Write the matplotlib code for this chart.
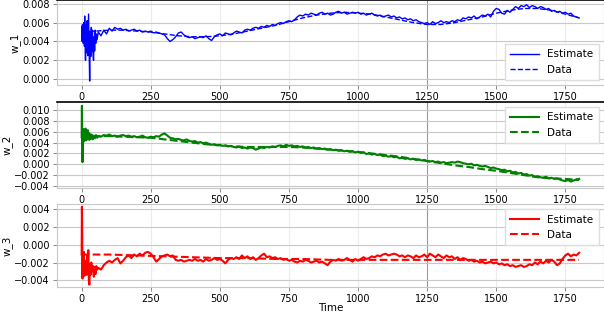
import matplotlib
matplotlib.use('Agg')
import matplotlib.pyplot as plt
import numpy as np
from matplotlib.ticker import MultipleLocator, FuncFormatter

# time axis: dense samples at the start, then every 10 steps
t_early_1 = [0, 1, 2, 3, 4, 5, 6, 8, 10, 11, 13, 14, 16, 18, 20, 22, 25, 27, 29, 31,
             33, 35, 37, 39, 41, 43, 45, 47, 49, 51, 53, 56, 60]
t_early_2 = [0, 1, 2, 3, 4, 5, 6, 8, 10, 12, 14, 16, 18, 20, 22, 24, 26, 28, 30, 33,
             36, 40, 44, 48, 52, 56, 60]
t_early_3 = [0, 1, 2, 3, 4, 6, 8, 10, 12, 14, 16, 18, 20, 22, 24, 26, 28, 30, 32, 35,
             38, 41, 44, 47, 50, 53, 56, 60]
t_late = np.arange(70, 1801, 10)
t_data1 = np.arange(0, 1801, 50)
t_data2 = np.arange(0, 1801, 50)
t_data3 = np.arange(0, 1801, 100)

# w_1
w1_early = [0.0045, 0.0056, 0.0040, 0.0058, 0.0042, 0.0055, 0.0038, 0.0060, 0.0035, 0.0067,
            0.0030, 0.0020, 0.0058, 0.0028, 0.0062, 0.0025, 0.0069, 0.0030, -0.0002, 0.0050,
            0.0024, 0.0055, 0.0030, 0.0052, 0.0028, 0.0020, 0.0045, 0.0030, 0.0052, 0.0038,
            0.0048, 0.0042, 0.0050]
w1_late = [
    0.0046, 0.0052, 0.0048, 0.0054, 0.0051, 0.0055, 0.0053, 0.0054, 0.0052, 0.0053,
    0.0051, 0.0052, 0.0053, 0.0051, 0.0052, 0.0050, 0.0051, 0.0050, 0.0051,
    0.0049, 0.0050, 0.0049, 0.0048, 0.0047, 0.0043, 0.0040, 0.0042, 0.0045, 0.0049,
    0.0050, 0.0047, 0.0045, 0.0044, 0.0045, 0.0043, 0.0044, 0.0045, 0.0044, 0.0046,
    0.0043, 0.0041, 0.0045, 0.0047, 0.0048,
    0.0046, 0.0049, 0.0048, 0.0047, 0.0049, 0.0051, 0.0050, 0.0049, 0.0052, 0.0053,
    0.0052, 0.0054, 0.0055, 0.0054, 0.0056, 0.0055, 0.0057, 0.0056, 0.0058, 0.0057,
    0.0059, 0.0060, 0.0059, 0.0061, 0.0062,
    0.0061, 0.0063, 0.0066, 0.0068, 0.0067, 0.0069, 0.0068, 0.0070, 0.0069, 0.0068,
    0.0070, 0.0071, 0.0069, 0.0070, 0.0068, 0.0069, 0.0071, 0.0072, 0.0070, 0.0071,
    0.0069, 0.0070, 0.0071, 0.0070, 0.0071,
    0.0069, 0.0070, 0.0068, 0.0069, 0.0070, 0.0068, 0.0067, 0.0068, 0.0066, 0.0067,
    0.0068, 0.0066, 0.0067, 0.0065, 0.0066, 0.0064, 0.0065, 0.0063, 0.0064, 0.0062,
    0.0063, 0.0061, 0.0060, 0.0059, 0.0060,
    0.0058, 0.0061, 0.0059, 0.0060, 0.0062, 0.0060, 0.0061, 0.0060, 0.0062, 0.0061,
    0.0063, 0.0062, 0.0065, 0.0064, 0.0066, 0.0065, 0.0067, 0.0064, 0.0066, 0.0068,
    0.0067, 0.0069, 0.0066, 0.0072, 0.0075,
    0.0074, 0.0070, 0.0069, 0.0073, 0.0071, 0.0074, 0.0077, 0.0075, 0.0078, 0.0077,
    0.0079, 0.0076, 0.0078, 0.0077, 0.0075, 0.0077, 0.0076, 0.0074, 0.0075, 0.0072,
    0.0073, 0.0071, 0.0072, 0.0070, 0.0071, 0.0069, 0.0070, 0.0067, 0.0066, 0.0065]
w1_data = [0.0050, 0.0051, 0.0052, 0.0052, 0.0051, 0.0050, 0.0048, 0.0046, 0.0045, 0.0045,
           0.0046, 0.0048, 0.0051, 0.0054, 0.0057, 0.0061, 0.0065, 0.0068, 0.0070, 0.0071,
           0.0070, 0.0069, 0.0066, 0.0063, 0.0060, 0.0058, 0.0058, 0.0060, 0.0063, 0.0066,
           0.0070, 0.0073, 0.0075, 0.0075, 0.0073, 0.0069, 0.0065]

# w_2
w2_early = [0.0050, 0.0108, 0.0060, 0.0004, 0.0055, 0.0048, 0.0065, 0.0042, 0.0062, 0.0045,
            0.0066, 0.0044, 0.0060, 0.0046, 0.0063, 0.0047, 0.0058, 0.0045, 0.0056, 0.0047,
            0.0055, 0.0046, 0.0053, 0.0048, 0.0054, 0.0049, 0.0052]
w2_late = [
    0.0051, 0.0054, 0.0053, 0.0055, 0.0052, 0.0053, 0.0051, 0.0053, 0.0054, 0.0052,
    0.0053, 0.0051, 0.0052, 0.0050, 0.0051, 0.0053, 0.0050, 0.0049, 0.0051,
    0.0050, 0.0052, 0.0051, 0.0055, 0.0057, 0.0053, 0.0049, 0.0048, 0.0046, 0.0047,
    0.0045, 0.0044, 0.0046, 0.0043, 0.0042, 0.0043, 0.0040, 0.0041, 0.0039, 0.0040,
    0.0038, 0.0036, 0.0037, 0.0035, 0.0036,
    0.0034, 0.0035, 0.0033, 0.0034, 0.0032, 0.0031, 0.0033, 0.0030, 0.0031, 0.0029,
    0.0031, 0.0030, 0.0027, 0.0029, 0.0031, 0.0030, 0.0032, 0.0031, 0.0033, 0.0032,
    0.0034, 0.0035, 0.0033, 0.0036, 0.0034,
    0.0035, 0.0033, 0.0034, 0.0032, 0.0033, 0.0031, 0.0032, 0.0030, 0.0031, 0.0029,
    0.0030, 0.0028, 0.0029, 0.0027, 0.0028, 0.0026, 0.0027, 0.0025, 0.0026, 0.0024,
    0.0025, 0.0023, 0.0024, 0.0022, 0.0023,
    0.0021, 0.0022, 0.0019, 0.0020, 0.0018, 0.0019, 0.0017, 0.0018, 0.0015, 0.0016,
    0.0014, 0.0015, 0.0013, 0.0014, 0.0011, 0.0012, 0.0010, 0.0011, 0.0009, 0.0010,
    0.0008, 0.0009, 0.0007, 0.0008, 0.0006,
    0.0005, 0.0006, 0.0004, 0.0005, 0.0003, 0.0004, 0.0002, 0.0003, 0.0004, 0.0003,
    0.0005, 0.0004, 0.0002, 0.0001, 0.0000, 0.0001, -0.0002, -0.0001, -0.0003, -0.0004,
    -0.0003, -0.0005, -0.0007, -0.0006, -0.0008,
    -0.0009, -0.0011, -0.0010, -0.0013, -0.0012, -0.0015, -0.0014, -0.0017, -0.0016, -0.0019,
    -0.0018, -0.0021, -0.0020, -0.0023, -0.0022, -0.0024, -0.0025, -0.0023, -0.0026, -0.0025,
    -0.0027, -0.0026, -0.0028, -0.0030, -0.0031, -0.0029, -0.0032, -0.0030, -0.0028, -0.0027]
w2_data = [0.0052, 0.0052, 0.0052, 0.0051, 0.0050, 0.0049, 0.0046, 0.0043, 0.0040, 0.0037,
           0.0035, 0.0033, 0.0032, 0.0032, 0.0032, 0.0032, 0.0031, 0.0029, 0.0027, 0.0025,
           0.0023, 0.0020, 0.0017, 0.0014, 0.0010, 0.0006, 0.0002, -0.0002, -0.0005, -0.0009,
           -0.0012, -0.0016, -0.0020, -0.0024, -0.0026, -0.0027, -0.0029]

# w_3
w3_early = [-0.0011, 0.0043, 0.0010, -0.0038, -0.0012, -0.0030, -0.0008, -0.0035, -0.0018, -0.0028,
            -0.0020, -0.0034, -0.0012, -0.0030, -0.0006, -0.0040, -0.0045, -0.0022, -0.0034, -0.0020,
            -0.0030, -0.0024, -0.0036, -0.0025, -0.0033, -0.0024, -0.0028, -0.0026]
w3_late = [
    -0.0028, -0.0023, -0.0020, -0.0018, -0.0020, -0.0017, -0.0015, -0.0021, -0.0018, -0.0014,
    -0.0012, -0.0015, -0.0011, -0.0013, -0.0010, -0.0012, -0.0009, -0.0008, -0.0010,
    -0.0014, -0.0019, -0.0016, -0.0013, -0.0012, -0.0011, -0.0013, -0.0012, -0.0017, -0.0018,
    -0.0017, -0.0019, -0.0018, -0.0017, -0.0018, -0.0016, -0.0018, -0.0017, -0.0019, -0.0016,
    -0.0018, -0.0017, -0.0015, -0.0017, -0.0016,
    -0.0018, -0.0021, -0.0017, -0.0015, -0.0016, -0.0014, -0.0016, -0.0012, -0.0015, -0.0013,
    -0.0016, -0.0014, -0.0017, -0.0015, -0.0012, -0.0010, -0.0014, -0.0013, -0.0015, -0.0014,
    -0.0016, -0.0015, -0.0017, -0.0016, -0.0018,
    -0.0017, -0.0019, -0.0020, -0.0018, -0.0019, -0.0017, -0.0018, -0.0020, -0.0019, -0.0018,
    -0.0020, -0.0019, -0.0021, -0.0023, -0.0019, -0.0017, -0.0018, -0.0016, -0.0018, -0.0017,
    -0.0015, -0.0017, -0.0019, -0.0016, -0.0018,
    -0.0016, -0.0014, -0.0016, -0.0015, -0.0013, -0.0014, -0.0012, -0.0013, -0.0011, -0.0010,
    -0.0012, -0.0011, -0.0010, -0.0011, -0.0013, -0.0012, -0.0014, -0.0012, -0.0013, -0.0015,
    -0.0012, -0.0014, -0.0013, -0.0011, -0.0014,
    -0.0010, -0.0012, -0.0014, -0.0011, -0.0013, -0.0015, -0.0012, -0.0014, -0.0013, -0.0016,
    -0.0014, -0.0017, -0.0015, -0.0016, -0.0018, -0.0017, -0.0019, -0.0018, -0.0020, -0.0019,
    -0.0021, -0.0020, -0.0019, -0.0021, -0.0020,
    -0.0022, -0.0021, -0.0023, -0.0022, -0.0024, -0.0023, -0.0025, -0.0024, -0.0023, -0.0025,
    -0.0024, -0.0022, -0.0023, -0.0020, -0.0022, -0.0019, -0.0021, -0.0018, -0.0020, -0.0017,
    -0.0019, -0.0023, -0.0021, -0.0016, -0.0012, -0.0010, -0.0013, -0.0011, -0.0012, -0.0009]
w3_data = [-0.0011, -0.0011, -0.0012, -0.0013, -0.0014, -0.0015, -0.0015, -0.0016, -0.0016, -0.0017,
           -0.0017, -0.0017, -0.0017, -0.0017, -0.0017, -0.0017, -0.0017, -0.0017, -0.0017]

ylabels = ['w_1', 'w_2', 'w_3']
colors = ['blue', 'green', 'red']


def fmt(v, pos):
    s = '%.3f' % v
    if s == '-0.000':
        s = '0.000'
    return s.replace('-', '\u2212')


fig = plt.figure(figsize=(6.04, 3.14), dpi=100)
rects = [[0.094, 0.729, 0.906, 0.271],
         [0.094, 0.401, 0.906, 0.274],
         [0.094, 0.085, 0.906, 0.265]]
series = [
    (t_early_1, w1_early, w1_late, t_data1, w1_data, 1.0, 'lower right', (-0.00063, 0.0084)),
    (t_early_2, w2_early, w2_late, t_data2, w2_data, 1.5, 'upper right', (-0.0044, 0.0115)),
    (t_early_3, w3_early, w3_late, t_data3, w3_data, 1.5, 'upper right', (-0.0048, 0.0046)),
]

for i, (te, we, wl, td, wd, lw, loc, ylim) in enumerate(series):
    ax = fig.add_axes(rects[i])
    t_est = np.concatenate([te, t_late])
    w_est = np.concatenate([we, wl])
    ax.plot(t_est, w_est, color=colors[i], lw=lw, label='Estimate')
    ax.plot(td, wd, color=colors[i], lw=lw, ls='--', label='Data')
    ax.set_ylim(*ylim)
    ax.yaxis.set_major_locator(MultipleLocator(0.002))
    ax.yaxis.set_major_formatter(FuncFormatter(fmt))
    ax.xaxis.set_major_locator(MultipleLocator(250))
    ax.set_ylabel(ylabels[i], fontsize=7.5, labelpad=1)
    ax.tick_params(labelsize=7, length=3, width=0.7, color='#888888', pad=2)
    ax.grid(axis='y', color='#c8c8c8', lw=0.8)
    ax.grid(axis='x', color='#ececec', lw=0.8)
    for s in ax.spines.values():
        s.set_color('#c8c8c8')
        s.set_linewidth(0.8)
    if i < 2:
        ax.spines['top'].set_color('black')
        ax.spines['top'].set_linewidth(1.2)
    ax.set_axisbelow(True)
    fig.canvas.draw()
    for tick_val, gl in zip(ax.get_xticks(), ax.xaxis.get_gridlines()):
        if tick_val == 1250:
            gl.set_color('#9a9a9a')
    ax.legend(loc=loc, fontsize=7.5, fancybox=False, framealpha=1,
              edgecolor='#dddddd', handlelength=2.8, borderpad=0.5)
    if i == 2:
        ax.set_xlabel('Time', fontsize=7.5, labelpad=-1)

fig.savefig('out.png', dpi=100)
